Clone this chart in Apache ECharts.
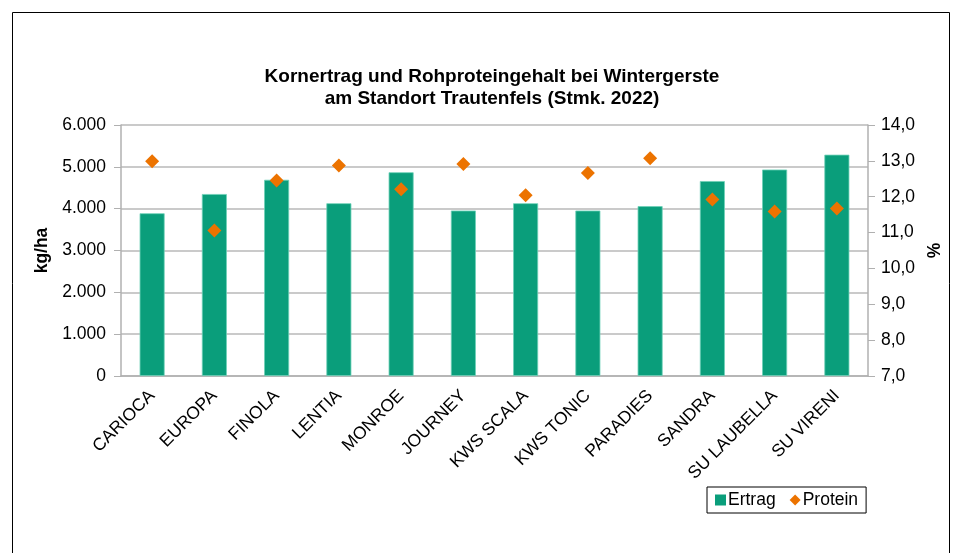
<!DOCTYPE html>
<html><head><meta charset="utf-8">
<script src="https://cdn.jsdelivr.net/npm/echarts@6/dist/echarts.min.js"></script>
<style>html,body{margin:0;padding:0;background:#fff}#c{width:958px;height:553px}</style>
</head><body><div id="c"></div>
<script>
var categories = ['CARIOCA','EUROPA','FINOLA','LENTIA','MONROE','JOURNEY','KWS SCALA','KWS TONIC','PARADIES','SANDRA','SU LAUBELLA','SU VIRENI'];
var ertrag = [3890, 4350, 4690, 4130, 4870, 3955, 4130, 3955, 4060, 4660, 4935, 5290];
var protein = [12.99, 11.06, 12.45, 12.87, 12.21, 12.91, 12.04, 12.66, 13.07, 11.92, 11.59, 11.67];
var leftTicks = {min: 0, max: 6000, interval: 1000};
var rightTicks = {min: 7, max: 14, interval: 1};

var FONT = '"Liberation Sans", Arial, Helvetica, sans-serif';
var FS = 17.5;
var chart = echarts.init(document.getElementById('c'));
chart.setOption({
  animation: false,
  textStyle: {fontFamily: FONT},
  graphic: [{type: 'rect', shape: {x: 12.5, y: 12.5, width: 937, height: 600}, style: {fill: 'none', stroke: '#000', lineWidth: 1}}],
  title: {
    text: 'Kornertrag und Rohproteingehalt bei Wintergerste\nam Standort Trautenfels (Stmk. 2022)',
    left: 487, top: 61, textAlign: 'center',
    textStyle: {fontFamily: FONT, fontSize: 19, fontWeight: 'bold', color: '#000', lineHeight: 22}
  },
  legend: {
    left: 707, top: 487, itemGap: 14, padding: [4, 8, 4, 8],
    borderColor: '#000', borderWidth: 1, itemWidth: 11, itemHeight: 11,
    itemStyle: {borderWidth: 0},
    textStyle: {fontFamily: FONT, fontSize: FS, color: '#000', padding: [0, 0, 0, -3]},
    data: [{name: 'Ertrag', icon: 'rect'}, {name: 'Protein', icon: 'diamond'}]
  },
  grid: {left: 121, right: 90, top: 125, bottom: 177, containLabel: false},
  xAxis: {
    type: 'category', data: categories,
    axisLine: {lineStyle: {color: '#b0b0b0', width: 1.5}},
    axisTick: {show: false},
    axisLabel: {rotate: 45, fontSize: FS, color: '#000', fontFamily: FONT, margin: 17, interval: 0}
  },
  yAxis: [{
    type: 'value', min: leftTicks.min, max: leftTicks.max, interval: leftTicks.interval,
    name: 'kg/ha', nameLocation: 'middle', nameGap: 67, nameRotate: 90,
    nameTextStyle: {fontFamily: FONT, fontSize: FS, fontWeight: 'bold', color: '#000'},
    axisLine: {show: true, lineStyle: {color: '#b0b0b0', width: 1.5}},
    axisTick: {show: true, length: 7, lineStyle: {color: '#b0b0b0'}},
    splitLine: {lineStyle: {color: '#b8b8b8', width: 1.5}},
    axisLabel: {fontSize: FS, color: '#000', fontFamily: FONT, margin: 15,
      formatter: function (v) { return v === 0 ? '0' : (v / 1000).toFixed(0) + '.000'; }}
  }, {
    type: 'value', min: rightTicks.min, max: rightTicks.max, interval: rightTicks.interval,
    position: 'right',
    name: '%', nameLocation: 'middle', nameGap: 56, nameRotate: 90,
    nameTextStyle: {fontFamily: FONT, fontSize: FS, fontWeight: 'bold', color: '#000'},
    axisLine: {show: true, lineStyle: {color: '#b0b0b0', width: 1.5}},
    axisTick: {show: true, length: 7, lineStyle: {color: '#b0b0b0'}},
    splitLine: {show: false},
    axisLabel: {fontSize: FS, color: '#000', fontFamily: FONT, margin: 13,
      formatter: function (v) { return v.toFixed(1).replace('.', ','); }}
  }],
  series: [{
    name: 'Ertrag', type: 'bar', data: ertrag, yAxisIndex: 0, barWidth: 25,
    itemStyle: {color: '#0A9E7B', borderColor: '#6fd0b8', borderWidth: 0.8}
  }, {
    name: 'Protein', type: 'scatter', data: protein, yAxisIndex: 1,
    symbol: 'diamond', symbolSize: 14,
    itemStyle: {color: '#EC7300', opacity: 1}
  }]
});
</script></body></html>
